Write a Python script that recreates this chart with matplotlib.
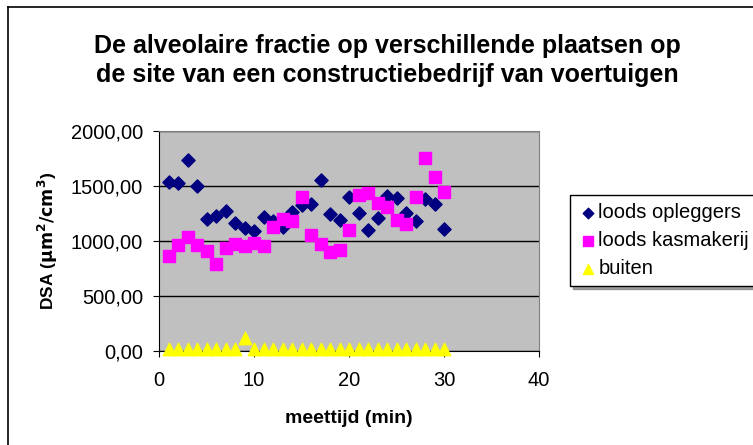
import matplotlib
matplotlib.use("Agg")
import matplotlib.pyplot as plt
from matplotlib.lines import Line2D
from matplotlib.ticker import FuncFormatter

plt.rcParams['font.family'] = ['Liberation Sans', 'DejaVu Sans']

meettijd = list(range(1, 31))
opleggers = [1540, 1530, 1736, 1503, 1200, 1227, 1275, 1161, 1121, 1091,
             1221, 1185, 1130, 1266, 1327, 1333, 1554, 1242, 1191, 1403,
             1252, 1100, 1212, 1409, 1388, 1252, 1185, 1385, 1336, 1112]
kasmakerij = [864, 964, 1034, 964, 909, 788, 939, 973, 955, 985,
              957, 1130, 1200, 1185, 1403, 1054, 970, 897, 918, 1100,
              1418, 1439, 1342, 1312, 1191, 1154, 1403, 1751, 1579, 1442]
buiten = [15, 15, 15, 15, 15, 15, 15, 15, 115, 15,
          15, 15, 15, 15, 15, 15, 15, 15, 15, 15,
          15, 15, 15, 15, 15, 15, 15, 15, 15, 15]

fig = plt.figure(figsize=(7.53, 4.45), dpi=100)
# chart border (only left and top visible in the crop)
fig.add_artist(Line2D([7.5 / 753, 7.5 / 753], [0, 1 - 6.5 / 445], transform=fig.transFigure,
                      color='black', linewidth=1.2))
fig.add_artist(Line2D([7.5 / 753, 1], [1 - 6.5 / 445, 1 - 6.5 / 445], transform=fig.transFigure,
                      color='black', linewidth=1.2))

ax = fig.add_axes([0.2112, 0.2112, 0.5046, 0.4944])
ax.set_facecolor('#C0C0C0')

ax.scatter(meettijd, opleggers, marker='D', s=45, color='#000080', label='loods opleggers', zorder=3)
ax.scatter(meettijd, kasmakerij, marker='s', s=80, color='#FF00FF', label='loods kasmakerij', zorder=3)
ax.scatter(meettijd, buiten, marker='^', s=80, color='#FFFF00', label='buiten', zorder=3, clip_on=False)

ax.set_xlim(0, 40)
ax.set_ylim(0, 2000)
ax.set_xticks([0, 10, 20, 30, 40])
ax.set_yticks([0, 500, 1000, 1500, 2000])
ax.yaxis.set_major_formatter(FuncFormatter(lambda v, p: f"{v:.2f}".replace('.', ',')))
ax.grid(axis='y', color='black', linewidth=1)
ax.set_axisbelow(True)
for s in ['top', 'right']:
    ax.spines[s].set_color('#808080')
ax.tick_params(labelsize=14.5, direction='out', length=4.5)
ax.tick_params(axis='y', pad=7)
ax.tick_params(axis='x', pad=10)

ax.set_xlabel('meettijd (min)', fontsize=14, fontweight='bold', labelpad=14)
ax.set_ylabel(r'DSA ($\mathbf{\mu m^2/cm^3}$)', fontsize=12.5, fontweight='bold', labelpad=8)
fig.text(0.514, 0.864, 'De alveolaire fractie op verschillende plaatsen op\nde site van een constructiebedrijf van voertuigen',
         ha='center', va='center', fontsize=18, fontweight='bold', linespacing=1.3)

leg = ax.legend(loc='upper left', bbox_to_anchor=(1.0816, 0.709), fontsize=14.5, frameon=True,
                fancybox=False, shadow=True, edgecolor='black', handletextpad=0.0,
                borderaxespad=0, handlelength=1, scatterpoints=1, labelspacing=0.45,
                markerscale=0.8, borderpad=0.4)
leg.get_frame().set_linewidth(1)

fig.savefig('out.png', dpi=100)
